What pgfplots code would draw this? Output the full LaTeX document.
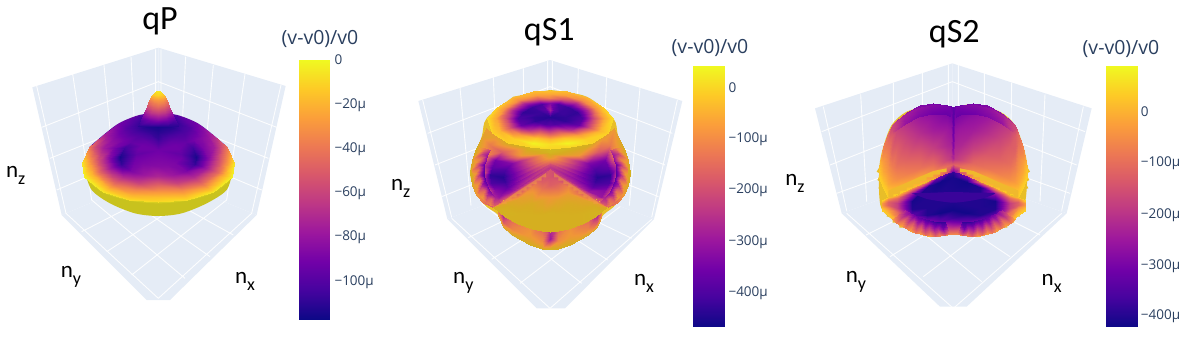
\documentclass[border=0pt]{standalone}
\usepackage{pgfplots}
\pgfplotsset{compat=1.18}
\usepackage{fontspec}
\setmainfont{Open Sans}
\newfontfamily\calfont{Carlito}
\definecolor{wall}{HTML}{E5ECF6}
\definecolor{slate}{HTML}{2A3F5F}
\definecolor{rimy}{RGB}{232,190,40}
\definecolor{stair}{RGB}{243,160,66}
\definecolor{undc}{RGB}{200,194,30}
\definecolor{lipc}{RGB}{216,206,32}
\definecolor{backc}{RGB}{100,5,160}
\definecolor{lensc}{RGB}{58,4,154}
\definecolor{stepc}{RGB}{240,185,45}
\pgfplotsset{
  colormap={plasma}{rgb255=(13,8,135) rgb255=(70,3,159) rgb255=(114,1,168) rgb255=(156,23,158) rgb255=(189,55,134) rgb255=(216,87,107) rgb255=(237,121,83) rgb255=(251,159,58) rgb255=(253,202,38) rgb255=(240,249,33)},
  colormap={plasmaS}{rgb255=(13,8,135) rgb255=(70,3,159) rgb255=(114,1,168) rgb255=(156,23,158) rgb255=(189,55,134) rgb255=(216,87,107) rgb255=(232,118,80) rgb255=(240,150,55) rgb255=(214,172,32) rgb255=(205,195,30)},
  panel/.style={at={(0,0)},anchor=south west,scale only axis,width=1190bp,height=340bp,
    xmin=-3*#1,xmax=3570-3*#1,ymin=0,ymax=1020,y dir=reverse,hide axis,colormap name=plasma,clip=true},
  sf/.style={surf,shader=interp,mesh/cols=#1,point meta=explicit},
  wl/.style={draw=none,fill=wall,forget plot},
  gl/.style={draw=white,line width=0.9bp,opacity=0.9,unbounded coords=jump,forget plot},
  pg/.style={draw=none,fill=#1,forget plot},
  table/x index=0,table/y index=1,table/meta index=2,
}
\newcommand{\ticklab}[2]{\node[anchor=west,text=slate,font=\fontsize{13.5bp}{14bp}\selectfont,inner sep=0pt] at (axis cs:#1) {#2};}
\newcommand{\nlab}[2]{\node[font=\calfont\fontsize{23bp}{24bp}\selectfont,inner sep=0pt] at (axis cs:#1) {n\raisebox{-0.32em}{\fontsize{18bp}{18bp}\selectfont #2}};}
\newcommand{\cbtitle}[1]{\node[text=slate,font=\fontsize{19.5bp}{20bp}\selectfont] at (axis cs:#1) {(v-v0)/v0};}
\begin{document}
\begin{tikzpicture}
\path[use as bounding box] (0,0) rectangle (1190bp,340bp);
% qP
\begin{axis}[panel=0,point meta min=-117,point meta max=0]
\addplot[wl] coordinates {(97,262)(475,143)(475,525)(185,645)} -- cycle;
\addplot[wl] coordinates {(475,143)(857,258)(770,645)(475,525)} -- cycle;
\addplot[wl] coordinates {(185,645)(475,525)(770,645)(510,900)(440,900)} -- cycle;
\addplot[gl] coordinates {
(110,258)(198,640)(nan,nan)(218,222)(275,600)(nan,nan)(312,195)(347,570)(nan,nan)(393,170)(412,545)(nan,nan)(467,148)(467,520)(nan,nan)
(125,382)(475,245)(nan,nan)(150,475)(475,345)(nan,nan)(170,570)(475,440)(nan,nan)
(843,255)(755,640)(nan,nan)(735,222)(680,600)(nan,nan)(640,195)(605,570)(nan,nan)(557,170)(538,545)(nan,nan)(483,148)(483,520)(nan,nan)
(830,382)(475,245)(nan,nan)(805,475)(475,345)(nan,nan)(785,570)(475,440)(nan,nan)
(198,640)(475,895)(nan,nan)(755,640)(475,895)(nan,nan)
(395,825)(680,600)(nan,nan)(320,755)(605,570)(nan,nan)(245,695)(538,545)(nan,nan)
(555,835)(275,600)(nan,nan)(630,770)(347,570)(nan,nan)(700,705)(412,545)(nan,nan)
};
% underside and lip
\addplot[smooth,pg=undc] coordinates {(255,515)(275,570)(330,610)(405,640)(475,648)(545,640)(620,610)(680,570)(697,515)} -- cycle;
\addplot[smooth,pg=lipc] coordinates {(248,489)(258,535)(310,578)(388,602)(475,610)(562,602)(640,578)(695,535)(703,489)} -- cycle;
\addplot[smooth,pg=backc] coordinates {(268,441)(310,405)(358,369)(418,345)(475,339)(532,345)(592,369)(640,405)(682,441)} -- cycle;
% dome: rings from the middle out to the rim
\addplot[sf=19] table {
475 450 -92
475 450 -92
475 450 -92
475 450 -92
475 450 -92
475 450 -92
475 450 -92
475 450 -92
475 450 -92
475 450 -92
475 450 -92
475 450 -92
475 450 -92
475 450 -92
475 450 -92
475 450 -92
475 450 -92
475 450 -92
475 450 -92
475 417 -107
492 418 -102
510 426 -95
525 436 -92
537 447 -92
543 462 -96
542 474 -92
525 488 -88
501 495 -86
475 497 -85
449 495 -86
425 488 -88
408 474 -92
407 462 -96
413 447 -92
425 436 -92
440 426 -95
458 418 -102
475 417 -107
475 394 -112
504 397 -108
534 409 -100
558 427 -95
579 445 -105
589 470 -114
586 491 -108
558 513 -88
519 525 -78
475 528 -72
431 525 -78
392 513 -88
364 491 -108
361 470 -114
371 445 -105
392 427 -95
416 409 -100
446 397 -108
475 394 -112
475 378 -115
512 382 -112
551 397 -102
582 421 -90
610 444 -88
623 475 -85
619 503 -78
582 532 -70
532 548 -60
475 551 -50
418 548 -60
368 532 -70
331 503 -78
327 475 -85
340 444 -88
368 421 -90
399 397 -102
438 382 -112
475 378 -115
475 361 -108
521 366 -110
569 385 -100
607 414 -85
641 443 -75
657 481 -55
653 515 -45
607 551 -42
545 570 -34
475 575 -28
405 570 -34
343 551 -42
297 515 -45
293 481 -55
309 443 -75
343 414 -85
381 385 -100
429 366 -110
475 361 -108
475 350 -100
526 355 -105
580 377 -95
624 409 -80
661 442 -60
680 485 -30
675 523 -20
624 563 -22
553 585 -20
475 590 -16
397 585 -20
326 563 -22
275 523 -20
270 485 -30
289 442 -60
326 409 -80
370 377 -95
424 355 -105
475 350 -100
475 339 -95
532 345 -100
592 369 -90
640 405 -72
682 441 -40
703 489 -6
697 531 -2
640 576 -5
562 600 -8
475 606 -8
388 600 -8
310 576 -5
253 531 -2
247 489 -6
268 441 -40
310 405 -72
358 369 -90
418 345 -100
475 339 -95
};
% peak
\addplot[sf=5] table {
469 273 -5
472 273 -5
475 273 -5
478 273 -5
481 273 -5
457 285 -15
466 285 -12
475 285 -10
484 285 -12
493 285 -15
448 300 -38
462 300 -30
475 300 -28
488 300 -30
502 300 -38
442 318 -55
458 318 -46
475 318 -42
492 318 -46
508 318 -55
433 340 -78
454 340 -66
475 340 -62
496 340 -66
517 340 -78
424 360 -100
450 360 -90
475 360 -85
500 360 -90
526 360 -100
415 378 -110
445 378 -110
475 378 -110
505 378 -110
535 378 -110
};
% colour bar
\addplot[sf=2] table {
897 180 0
990 180 0
897 958 -117
990 958 -117
};
\cbtitle{960,117}
\ticklab{1003,180}{0}
\ticklab{1003,315}{−20µ}
\ticklab{1003,448}{−40µ}
\ticklab{1003,580}{−60µ}
\ticklab{1003,713}{−80µ}
\ticklab{1003,847}{−100µ}
\node[font=\calfont\fontsize{34bp}{35bp}\selectfont] at (axis cs:480,65) {qP};
\nlab{47,527}{z}
\nlab{213,830}{y}
\nlab{735,845}{x}
\end{axis}
% qS1
\begin{axis}[panel=390,point meta min=-466,point meta max=43]
\addplot[wl] coordinates {(85,303)(480,180)(480,540)(172,657)} -- cycle;
\addplot[wl] coordinates {(480,180)(877,303)(792,657)(480,540)} -- cycle;
\addplot[wl] coordinates {(172,657)(480,540)(792,657)(525,925)(440,925)} -- cycle;
\addplot[gl] coordinates {
(98,300)(185,652)(nan,nan)(210,263)(243,617)(nan,nan)(310,232)(325,585)(nan,nan)(400,205)(405,565)(nan,nan)(473,183)(473,535)(nan,nan)
(113,400)(480,260)(nan,nan)(135,495)(480,360)(nan,nan)(155,590)(480,460)(nan,nan)
(862,300)(785,652)(nan,nan)(750,263)(718,617)(nan,nan)(650,232)(635,585)(nan,nan)(565,205)(555,565)(nan,nan)(487,183)(487,535)(nan,nan)
(847,400)(480,260)(nan,nan)(825,495)(480,360)(nan,nan)(805,590)(480,460)(nan,nan)
(185,655)(480,925)(nan,nan)(785,658)(480,925)(nan,nan)
(390,850)(690,620)(nan,nan)(305,778)(615,580)(nan,nan)(235,713)(545,565)(nan,nan)
(575,850)(275,610)(nan,nan)(653,780)(345,580)(nan,nan)(725,715)(415,565)(nan,nan)
};
\addplot[smooth,pg=rimy] coordinates {(480,270)(590,290)(670,355)(685,410)(720,520)(680,610)(640,645)(595,705)(480,748)(365,705)(325,645)(280,610)(240,520)(275,410)(290,355)(370,290)} -- cycle;
% lower body
\addplot[sf=11,colormap name=plasmaS] table {
325 610 -60
340 610 -60
365 610 -60
420 610 -60
455 610 -60
480 610 -60
505 610 -60
540 610 -60
595 610 -60
620 610 -60
635 610 -60
325 628 -150
340 645 -280
365 658 -150
420 672 -90
455 679 -170
480 680 -250
505 679 -170
540 672 -90
595 658 -150
620 645 -280
635 628 -150
325 638 -100
340 666 -180
365 686 -100
420 710 -60
455 722 -90
480 716 -290
505 722 -90
540 710 -60
595 686 -100
620 666 -180
635 638 -100
325 645 -50
340 680 -30
365 705 -20
420 735 -10
455 748 -10
480 748 0
505 748 -10
540 735 -10
595 705 -20
620 680 -30
635 645 -50
};
% middle band with the two dark hollows
\addplot[sf=9,colormap name=plasmaS] table {
288 385 -60
320 412 -50
360 430 0
420 442 10
480 447 20
540 442 10
600 430 0
640 412 -50
672 385 -60
275 410 -40
300 435 -120
335 455 -180
395 465 -60
480 455 10
565 465 -60
625 455 -180
660 435 -120
685 410 -40
258 445 -10
285 465 -90
315 480 -350
365 490 -330
480 463 -10
595 490 -330
645 480 -350
675 465 -90
702 445 -10
245 480 -30
270 495 -180
305 505 -380
345 510 -400
480 470 -40
615 510 -400
655 505 -380
690 495 -180
715 480 -30
240 520 0
268 525 -80
300 525 -430
340 530 -440
480 478 -80
620 530 -440
660 525 -430
692 525 -80
720 520 0
245 555 -20
272 550 -200
303 550 -400
345 545 -420
480 485 -140
615 545 -420
657 550 -400
688 550 -200
715 555 -20
258 585 -60
280 575 -100
315 570 -330
352 562 -380
480 492 -200
608 562 -380
645 570 -330
680 575 -100
702 585 -60
280 610 -120
295 600 -210
328 590 -300
365 572 -300
480 500 -240
595 572 -300
632 590 -300
665 600 -210
680 610 -120
305 622 -170
318 612 -170
345 595 -200
385 570 -220
480 507 -230
575 570 -220
615 595 -200
642 612 -170
655 622 -170
};
% ribbed flanks, left then right
\addplot[sf=13,colormap name=plasmaS] table {
268 440 -60
258 458 -30
252 475 -90
248 492 -30
247 510 -100
248 528 -30
252 545 -110
257 562 -40
265 578 -120
275 593 -60
288 605 -140
300 614 -100
315 622 -160
284 445 -120
275 461 -230
270 478 -120
266 494 -240
265 510 -130
266 526 -250
269 542 -140
274 558 -250
281 574 -150
290 588 -240
302 598 -160
312 607 -220
325 615 -170
300 450 -230
292 465 -300
287 480 -310
283 495 -370
282 510 -380
283 525 -400
286 540 -380
291 555 -360
297 570 -340
305 582 -320
315 592 -280
325 600 -240
335 608 -210
};
\addplot[sf=13,colormap name=plasmaS] table {
692 440 -60
702 458 -30
708 475 -90
712 492 -30
713 510 -100
712 528 -30
708 545 -110
703 562 -40
695 578 -120
685 593 -60
672 605 -140
660 614 -100
645 622 -160
676 445 -120
685 461 -230
690 478 -120
694 494 -240
695 510 -130
694 526 -250
691 542 -140
686 558 -250
679 574 -150
670 588 -240
658 598 -160
648 607 -220
635 615 -170
660 450 -230
668 465 -300
673 480 -310
677 495 -370
678 510 -380
677 525 -400
674 540 -380
669 555 -360
663 570 -340
655 582 -320
645 592 -280
635 600 -240
625 608 -210
};
% front diamond
\addplot[sf=11,colormap name=plasmaS] table {
310 620 -150
345 597 -190
385 571 -200
425 544 -210
455 524 -210
480 508 -190
505 524 -210
535 544 -210
575 571 -200
615 597 -190
650 620 -150
310 620 -100
345 603 -90
385 583 -150
425 562 -100
455 545 -170
480 531 -190
505 545 -170
535 562 -100
575 583 -150
615 603 -90
650 620 -100
310 620 -60
345 610 -30
385 596 -40
425 580 -60
455 566 -130
480 555 -170
505 566 -130
535 580 -60
575 596 -40
615 610 -30
650 620 -60
310 621 -30
345 621 -10
385 617 -20
425 608 -20
455 600 -40
480 591 -70
505 600 -40
535 608 -20
575 617 -20
615 621 -10
650 621 -30
310 622 -10
345 635 0
385 642 -5
425 648 -5
455 644 -5
480 638 -5
505 644 -5
535 648 -5
575 642 -5
615 635 0
650 622 -10
310 622 -10
345 650 -5
385 672 -5
425 688 -5
455 694 -5
480 696 -5
505 694 -5
535 688 -5
575 672 -5
615 650 -5
650 622 -10
};
\addplot[pg=stair,opacity=0.5] coordinates {(335,612)(350,612)(350,602)(365,602)(365,592)(380,592)(380,582)(395,582)(395,572)(410,572)(410,562)(425,562)(425,552)(440,552)(440,542)(455,542)(455,532)(468,532)(468,519)(335,606)} -- cycle;
\addplot[pg=stair,opacity=0.5] coordinates {(625,612)(610,612)(610,602)(595,602)(595,592)(580,592)(580,582)(565,582)(565,572)(550,572)(550,562)(535,562)(535,552)(520,552)(520,542)(505,542)(505,532)(492,532)(492,519)(625,606)} -- cycle;
% top cap
\addplot[sf=17] table {
480 350 -440
480 350 -440
480 350 -440
480 350 -440
480 350 -440
480 350 -440
480 350 -440
480 350 -440
480 350 -440
480 350 -440
480 350 -440
480 350 -440
480 350 -440
480 350 -440
480 350 -440
480 350 -440
480 350 -440
480 330 -280
493 331 -380
508 335 -420
520 342 -420
528 351 -430
524 363 -430
511 370 -400
495 373 -400
480 374 -380
465 373 -400
449 370 -400
436 363 -430
432 351 -430
440 342 -420
452 335 -420
467 331 -380
480 330 -280
480 310 -330
505 312 -400
535 320 -420
560 335 -430
575 353 -400
568 375 -370
543 389 -250
510 396 -170
480 399 -190
450 396 -170
417 389 -250
392 375 -370
385 353 -400
400 335 -430
425 320 -420
455 312 -400
480 310 -330
480 294 -120
515 297 -180
557 308 -260
592 329 -270
613 354 -200
603 385 -170
568 405 -70
522 414 -20
480 418 -40
438 414 -20
392 405 -70
357 385 -170
347 354 -200
368 329 -270
403 308 -260
445 297 -180
480 294 -120
480 282 -60
523 285 -70
574 299 -100
616 324 -90
642 354 -60
629 393 -40
586 416 -5
531 428 35
480 432 10
429 428 35
374 416 -5
331 393 -40
318 354 -60
344 324 -90
386 299 -100
437 285 -70
480 282 -60
480 270 -20
530 274 -30
590 290 -40
640 320 -10
670 355 10
655 400 -5
605 428 -5
540 442 0
480 447 0
420 442 0
355 428 -5
305 400 -5
290 355 10
320 320 -10
370 290 -40
430 274 -30
480 270 -20
};
\addplot[sf=2] table {
908 198 43
1002 198 43
908 980 -466
1002 980 -466
};
\cbtitle{960,145}
\ticklab{1015,263}{0}
\ticklab{1015,417}{−100µ}
\ticklab{1015,570}{−200µ}
\ticklab{1015,727}{−300µ}
\ticklab{1015,880}{−400µ}
\node[font=\calfont\fontsize{34bp}{35bp}\selectfont] at (axis cs:478,98) {qS1};
\nlab{32,565}{z}
\nlab{220,848}{y}
\nlab{762,850}{x}
\end{axis}
% qS2
\begin{axis}[panel=790,point meta min=-420,point meta max=90]
\addplot[wl] coordinates {(75,325)(487,190)(487,520)(155,640)} -- cycle;
\addplot[wl] coordinates {(487,190)(905,325)(830,640)(487,520)} -- cycle;
\addplot[wl] coordinates {(155,640)(487,520)(830,640)(530,920)(450,920)} -- cycle;
\addplot[gl] coordinates {
(100,320)(170,632)(nan,nan)(212,283)(230,605)(nan,nan)(310,248)(310,575)(nan,nan)(397,218)(397,550)(nan,nan)(475,193)(475,525)(nan,nan)
(95,395)(487,245)(nan,nan)(120,495)(487,350)(nan,nan)(140,580)(487,455)(nan,nan)
(880,320)(815,632)(nan,nan)(765,283)(750,605)(nan,nan)(665,248)(660,575)(nan,nan)(583,218)(583,550)(nan,nan)(505,193)(505,525)(nan,nan)
(885,395)(487,245)(nan,nan)(860,495)(487,350)(nan,nan)(840,580)(487,455)(nan,nan)
(170,640)(490,925)(nan,nan)(815,640)(490,925)(nan,nan)
(400,830)(700,600)(nan,nan)(300,770)(620,570)(nan,nan)(228,705)(550,545)(nan,nan)
(575,845)(280,600)(nan,nan)(660,770)(360,570)(nan,nan)(750,705)(430,545)(nan,nan)
};
\addplot[smooth,pg=rimy] coordinates {(490,325)(550,312)(630,335)(675,375)(700,440)(712,500)(708,590)(695,635)(640,680)(560,708)(490,702)(420,708)(340,680)(280,635)(268,590)(268,500)(280,440)(305,375)(350,335)(430,312)} -- cycle;
% toothed outline
\addplot[pg=rimy] coordinates {(272,495)(260,515)(272,522)(262,540)(274,547)(265,565)(280,568)(272,585)(296,595)(300,560)(280,490)} -- cycle;
\addplot[pg=rimy] coordinates {(708,495)(720,515)(708,522)(718,540)(706,547)(715,565)(700,568)(708,585)(684,595)(680,560)(700,490)} -- cycle;
\addplot[pg=rimy] coordinates {(290,605)(280,632)(295,632)(290,650)(308,650)(308,668)(328,668)(328,683)(350,683)(380,640)(320,600)} -- cycle;
\addplot[pg=rimy] coordinates {(690,605)(700,632)(685,632)(690,650)(672,650)(672,668)(652,668)(652,683)(630,683)(600,640)(660,600)} -- cycle;
% lower part with the dark lens
\addplot[sf=13] table {
275 600 40
295 590 30
320 585 10
365 565 -40
410 545 -100
450 528 -300
490 512 -380
530 528 -300
570 545 -100
615 565 -40
660 585 10
685 590 30
705 600 40
275 603 30
295 596 -50
320 593 -100
365 578 -250
410 561 -400
450 546 -415
490 531 -410
530 546 -415
570 561 -400
615 578 -250
660 593 -100
685 596 -50
705 603 30
275 610 -30
295 607 -120
320 610 -180
365 604 -410
410 594 -400
450 582 -400
490 569 -405
530 582 -400
570 594 -400
615 604 -410
660 610 -180
685 607 -120
705 610 -30
275 615 -30
295 616 -120
320 625 -170
365 627 -400
410 623 -400
450 614 -400
490 603 -400
530 614 -400
570 623 -400
615 627 -400
660 625 -170
685 616 -120
705 615 -30
275 620 0
295 624 -50
320 636 -100
365 646 -330
410 646 -400
450 640 -415
490 630 -415
530 640 -415
570 646 -400
615 646 -330
660 636 -100
685 624 -50
705 620 0
275 624 20
295 631 -20
320 647 -80
365 663 -180
410 667 -280
450 663 -330
490 655 -370
530 663 -330
570 667 -280
615 663 -180
660 647 -80
685 631 -20
705 624 20
275 628 30
295 638 10
320 658 -30
365 679 -80
410 688 -120
450 686 -150
490 679 -230
530 686 -150
570 688 -120
615 679 -80
660 658 -30
685 638 10
705 628 30
275 632 40
295 645 30
320 668 10
365 695 -20
410 708 -10
450 708 -20
490 702 -60
530 708 -20
570 708 -10
615 695 -20
660 668 10
685 645 30
705 632 40
};
% ribbed fan below the lens, left then right
\addplot[sf=13] table {
345 630 -230
352 634 -260
360 638 -280
368 642 -300
376 646 -320
385 650 -330
395 654 -340
405 657 -350
416 660 -360
428 663 -370
440 665 -380
452 666 -380
465 667 -380
325 644 -130
335 651 -190
346 657 -130
357 663 -200
368 669 -140
380 674 -210
392 678 -160
405 681 -240
418 683 -190
431 685 -270
445 686 -220
458 686 -300
471 685 -240
305 658 -20
318 668 -70
332 677 -20
346 685 -80
360 692 -20
375 698 -80
390 702 -30
405 705 -100
420 707 -40
435 708 -120
450 708 -50
465 706 -130
478 703 -60
};
\addplot[sf=13] table {
635 630 -230
628 634 -260
620 638 -280
612 642 -300
604 646 -320
595 650 -330
585 654 -340
575 657 -350
564 660 -360
552 663 -370
540 665 -380
528 666 -380
515 667 -380
655 644 -130
645 651 -190
634 657 -130
623 663 -200
612 669 -140
600 674 -210
588 678 -160
575 681 -240
562 683 -190
549 685 -270
535 686 -220
522 686 -300
509 685 -240
675 658 -20
662 668 -70
648 677 -20
634 685 -80
620 692 -20
605 698 -80
590 702 -30
575 705 -100
560 707 -40
545 708 -120
530 708 -50
515 706 -130
502 703 -60
};
\addplot[smooth,pg=lensc] coordinates {(365,580)(430,578)(490,576)(550,578)(615,580)(570,597)(490,608)(410,597)} -- cycle;
% upper dome
\addplot[sf=21] table {
268 500 20
280 440 -60
295 398 -110
305 375 -180
320 360 -240
350 335 -270
390 316 -290
430 310 -300
470 314 -310
484 318 -320
490 322 -330
496 318 -320
510 314 -310
550 310 -300
590 316 -290
630 335 -270
660 360 -240
675 375 -180
685 398 -110
700 440 -60
712 500 20
268 505 25
280 459 -60
295 427 -100
305 407 -130
320 393 -170
350 370 -210
390 351 -250
430 344 -270
470 345 -290
484 348 -300
490 350 -340
496 348 -300
510 345 -290
550 344 -270
590 351 -250
630 370 -210
660 393 -170
675 407 -130
685 427 -100
700 459 -60
712 505 25
268 511 30
280 484 -30
295 465 -70
305 450 -120
320 438 -130
350 417 -170
390 399 -210
430 389 -240
470 386 -250
484 387 -260
490 388 -320
496 387 -260
510 386 -250
550 389 -240
590 399 -210
630 417 -170
660 438 -130
675 450 -120
685 465 -70
700 484 -30
712 511 30
268 518 30
280 515 -10
295 513 -40
305 503 -70
320 493 -100
350 476 -120
390 458 -140
430 445 -180
470 438 -220
484 436 -230
490 436 -290
496 436 -230
510 438 -220
550 445 -180
590 458 -140
630 476 -120
660 493 -100
675 503 -70
685 513 -40
700 515 -10
712 518 30
268 524 35
280 540 15
295 552 -10
305 545 -30
320 538 -50
350 523 -70
390 505 -90
430 490 -110
470 479 -170
484 476 -190
490 474 -230
496 476 -190
510 479 -170
550 490 -110
590 505 -90
630 523 -70
660 538 -50
675 545 -30
685 552 -10
700 540 15
712 524 35
268 527 35
280 552 30
295 571 20
305 567 10
320 560 0
350 547 -20
390 528 -30
430 513 -60
470 499 -100
484 495 -110
490 493 -130
496 495 -110
510 499 -100
550 513 -60
590 528 -30
630 547 -20
660 560 0
675 567 10
685 571 20
700 552 30
712 527 35
268 530 35
280 565 40
295 590 40
305 588 40
320 582 40
350 570 30
390 552 10
430 535 -20
470 520 -150
484 515 -280
490 512 -300
496 515 -280
510 520 -150
550 535 -20
590 552 10
630 570 30
660 582 40
675 588 40
685 590 40
700 565 40
712 530 35
};
% ridge across the top
\addplot[sf=6] table {
305 375 -160
340 345 -230
380 325 -260
420 315 -280
460 315 -290
482 322 -300
310 395 -170
345 372 -260
385 352 -290
425 343 -310
465 343 -320
482 350 -320
};
\addplot[sf=6] table {
675 375 -160
640 345 -230
600 325 -260
560 315 -280
520 315 -290
498 322 -300
670 395 -170
635 372 -260
595 352 -290
555 343 -310
515 343 -320
498 350 -320
};
% stepped lip
\addplot[pg=stepc] coordinates {(295,592)(310,592)(310,582)(330,582)(330,572)(350,572)(350,562)(370,562)(370,552)(390,552)(390,542)(410,542)(410,532)(430,532)(430,524)(450,524)(450,516)(470,516)(470,505)(430,513)(390,530)(350,548)(310,565)(295,572)} -- cycle;
\addplot[pg=stepc] coordinates {(685,592)(670,592)(670,582)(650,582)(650,572)(630,572)(630,562)(610,562)(610,552)(590,552)(590,542)(570,542)(570,532)(550,532)(550,524)(530,524)(530,516)(510,516)(510,505)(550,513)(590,530)(630,548)(670,565)(685,572)} -- cycle;
\addplot[sf=2] table {
948 198 90
1041 198 90
948 980 -420
1041 980 -420
};
\cbtitle{993,148}
\ticklab{1052,335}{0}
\ticklab{1052,490}{−100µ}
\ticklab{1052,645}{−200µ}
\ticklab{1052,798}{−300µ}
\ticklab{1052,950}{−400µ}
\node[font=\calfont\fontsize{34bp}{35bp}\selectfont] at (axis cs:493,102) {qS2};
\nlab{15,550}{z}
\nlab{198,845}{y}
\nlab{785,850}{x}
\end{axis}
\end{tikzpicture}
\end{document}
